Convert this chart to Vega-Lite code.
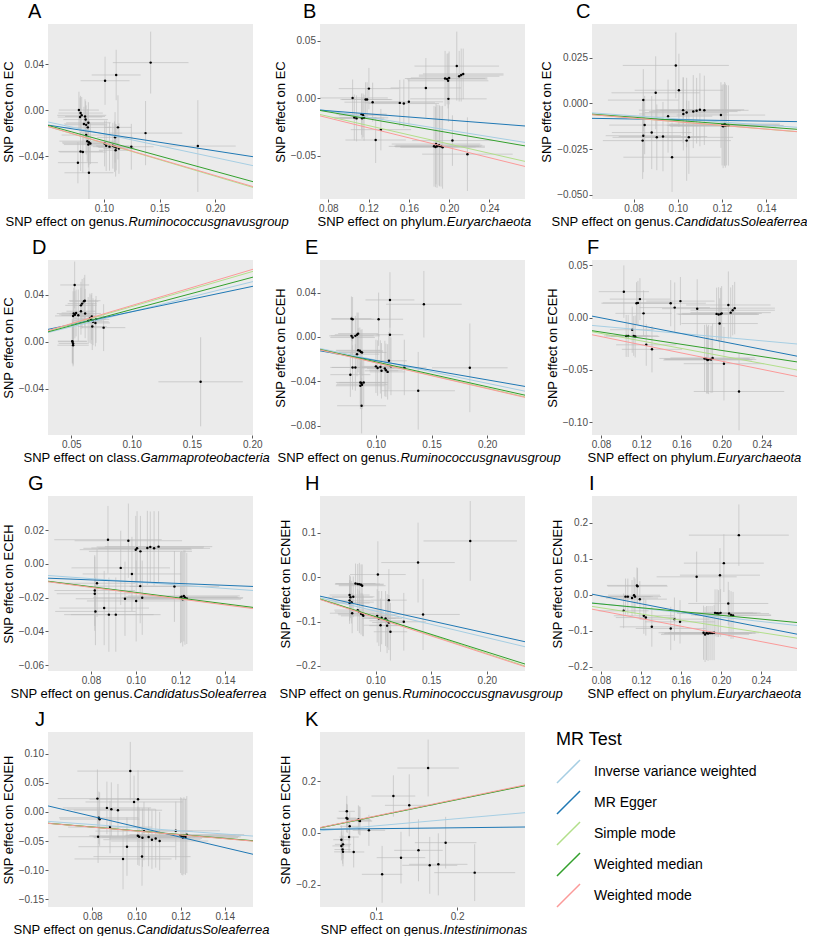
{
"$schema": "https://vega.github.io/schema/vega-lite/v6.json",
"background": "white",
"padding": {"left": 2, "top": 2, "right": 0, "bottom": 0},
"bounds": "flush",
"columns": 3,
"spacing": {"row": 61, "column": 67},
"config": {
  "font": "Liberation Sans",
  "view": {"fill": "#EBEBEB", "stroke": null},
  "title": {"anchor": "start", "frame": "group", "fontSize": 20, "fontWeight": "normal", "offset": 2, "color": "#000000"},
  "axis": {"domain": false, "tickColor": "#333333", "tickSize": 3, "tickWidth": 0.8, "labelColor": "#4D4D4D", "labelFontSize": 10, "labelPadding": 1.5, "labelFlush": false, "labelOverlap": false, "titleFontSize": 13, "titleFontWeight": "normal", "titleColor": "#000000", "gridColor": "#FFFFFF", "gridWidth": 1, "gridOpacity": 1},
  "axisY": {"titlePadding": 3},
  "legend": {"titleFontSize": 18, "titleFontWeight": "normal", "titleColor": "#000000", "labelFontSize": 14, "labelColor": "#000000", "labelLimit": 400, "rowPadding": 0, "labelOffset": 13, "titlePadding": 10, "padding": 0}
},
"datasets": {
"a": [
{"x":0.142,"y":0.0415,"xl":0.108,"xh":0.176,"yl":0.0145,"yh":0.0685},
{"x":0.111,"y":0.0307,"xl":0.089,"xh":0.133,"yl":0.0087,"yh":0.0527},
{"x":0.101,"y":0.0257,"xl":0.079,"xh":0.123,"yl":0.0047,"yh":0.0467},
{"x":0.0775,"y":0.0001,"xl":0.0595,"xh":0.0955,"yl":-0.0159,"yh":0.0161},
{"x":0.079,"y":-0.0025,"xl":0.059,"xh":0.099,"yl":-0.0175,"yh":0.0125},
{"x":0.08,"y":-0.0045,"xl":0.058,"xh":0.102,"yl":-0.0205,"yh":0.0115},
{"x":0.0785,"y":-0.006,"xl":0.0585,"xh":0.0985,"yl":-0.023,"yh":0.011},
{"x":0.083,"y":-0.0055,"xl":0.065,"xh":0.101,"yl":-0.0205,"yh":0.0095},
{"x":0.0835,"y":-0.0082,"xl":0.0635,"xh":0.1035,"yl":-0.0242,"yh":0.0078},
{"x":0.086,"y":-0.011,"xl":0.066,"xh":0.106,"yl":-0.029,"yh":0.007},
{"x":0.084,"y":-0.0128,"xl":0.065,"xh":0.103,"yl":-0.0298,"yh":0.0042},
{"x":0.0855,"y":-0.015,"xl":0.0645,"xh":0.1065,"yl":-0.031,"yh":0.001},
{"x":0.082,"y":-0.012,"xl":0.064,"xh":0.1,"yl":-0.027,"yh":0.003},
{"x":0.1126,"y":-0.015,"xl":0.1006,"xh":0.1246,"yl":-0.043,"yh":0.013},
{"x":0.1374,"y":-0.02,"xl":0.1044,"xh":0.1704,"yl":-0.048,"yh":0.008},
{"x":0.11,"y":-0.0237,"xl":0.094,"xh":0.126,"yl":-0.0457,"yh":-0.0017},
{"x":0.084,"y":-0.0217,"xl":0.062,"xh":0.106,"yl":-0.0387,"yh":-0.0047},
{"x":0.085,"y":-0.027,"xl":0.06,"xh":0.11,"yl":-0.045,"yh":-0.009},
{"x":0.0865,"y":-0.028,"xl":0.0625,"xh":0.1105,"yl":-0.048,"yh":-0.008},
{"x":0.0878,"y":-0.029,"xl":0.0628,"xh":0.1128,"yl":-0.047,"yh":-0.011},
{"x":0.086,"y":-0.03,"xl":0.064,"xh":0.108,"yl":-0.05,"yh":-0.01},
{"x":0.1006,"y":-0.029,"xl":0.0886,"xh":0.1126,"yl":-0.049,"yh":-0.009},
{"x":0.102,"y":-0.031,"xl":0.088,"xh":0.116,"yl":-0.053,"yh":-0.009},
{"x":0.105,"y":-0.0318,"xl":0.09,"xh":0.12,"yl":-0.0528,"yh":-0.0108},
{"x":0.108,"y":-0.031,"xl":0.093,"xh":0.123,"yl":-0.051,"yh":-0.011},
{"x":0.1095,"y":-0.0318,"xl":0.0935,"xh":0.1255,"yl":-0.0538,"yh":-0.0098},
{"x":0.111,"y":-0.0325,"xl":0.095,"xh":0.127,"yl":-0.0525,"yh":-0.0125},
{"x":0.1135,"y":-0.0335,"xl":0.0995,"xh":0.1275,"yl":-0.0555,"yh":-0.0115},
{"x":0.1105,"y":-0.035,"xl":0.0955,"xh":0.1255,"yl":-0.058,"yh":-0.012},
{"x":0.1246,"y":-0.0319,"xl":0.1046,"xh":0.1446,"yl":-0.0519,"yh":-0.0119},
{"x":0.1844,"y":-0.0313,"xl":0.1504,"xh":0.2184,"yl":-0.0713,"yh":0.0087},
{"x":0.079,"y":-0.036,"xl":0.059,"xh":0.099,"yl":-0.053,"yh":-0.019},
{"x":0.081,"y":-0.0365,"xl":0.06,"xh":0.102,"yl":-0.0545,"yh":-0.0185},
{"x":0.0766,"y":-0.0458,"xl":0.0586,"xh":0.0946,"yl":-0.0638,"yh":-0.0278},
{"x":0.0865,"y":-0.0546,"xl":0.0645,"xh":0.1085,"yl":-0.0776,"yh":-0.0316}
],
"b": [
{"x":0.1041,"y":0.0001,"xl":0.0691,"xh":0.1391,"yl":-0.0159,"yh":0.0161},
{"x":0.1203,"y":0.0082,"xl":0.0903,"xh":0.1503,"yl":-0.0098,"yh":0.0262},
{"x":0.117,"y":-0.0013,"xl":0.092,"xh":0.142,"yl":-0.0163,"yh":0.0137},
{"x":0.1185,"y":-0.0013,"xl":0.0935,"xh":0.1435,"yl":-0.0163,"yh":0.0137},
{"x":0.124,"y":-0.0036,"xl":0.096,"xh":0.152,"yl":-0.0206,"yh":0.0134},
{"x":0.1058,"y":-0.0169,"xl":0.0838,"xh":0.1278,"yl":-0.0369,"yh":0.0031},
{"x":0.108,"y":-0.0177,"xl":0.086,"xh":0.13,"yl":-0.0377,"yh":0.0023},
{"x":0.113,"y":-0.014,"xl":0.088,"xh":0.138,"yl":-0.032,"yh":0.004},
{"x":0.1145,"y":-0.015,"xl":0.0905,"xh":0.1385,"yl":-0.034,"yh":0.004},
{"x":0.1135,"y":-0.0175,"xl":0.0915,"xh":0.1355,"yl":-0.0355,"yh":0.0005},
{"x":0.1155,"y":-0.0172,"xl":0.0915,"xh":0.1395,"yl":-0.0372,"yh":0.0028},
{"x":0.1322,"y":-0.0275,"xl":0.1022,"xh":0.1622,"yl":-0.0455,"yh":-0.0095},
{"x":0.127,"y":-0.0365,"xl":0.097,"xh":0.157,"yl":-0.0565,"yh":-0.0165},
{"x":0.151,"y":-0.0042,"xl":0.116,"xh":0.186,"yl":-0.0242,"yh":0.0158},
{"x":0.155,"y":-0.0048,"xl":0.12,"xh":0.19,"yl":-0.0258,"yh":0.0162},
{"x":0.16,"y":-0.0033,"xl":0.126,"xh":0.194,"yl":-0.0233,"yh":0.0167},
{"x":0.1769,"y":0.0088,"xl":0.1419,"xh":0.2119,"yl":-0.0172,"yh":0.0348},
{"x":0.196,"y":0.017,"xl":0.156,"xh":0.236,"yl":-0.007,"yh":0.041},
{"x":0.198,"y":0.0165,"xl":0.158,"xh":0.238,"yl":-0.0055,"yh":0.0385},
{"x":0.2,"y":0.0175,"xl":0.162,"xh":0.238,"yl":-0.0055,"yh":0.0405},
{"x":0.199,"y":0.015,"xl":0.159,"xh":0.239,"yl":-0.009,"yh":0.039},
{"x":0.2076,"y":0.0278,"xl":0.1656,"xh":0.2496,"yl":-0.0022,"yh":0.0578},
{"x":0.21,"y":0.019,"xl":0.17,"xh":0.25,"yl":-0.003,"yh":0.041},
{"x":0.212,"y":0.02,"xl":0.17,"xh":0.254,"yl":-0.003,"yh":0.043},
{"x":0.214,"y":0.021,"xl":0.174,"xh":0.254,"yl":-0.001,"yh":0.043},
{"x":0.1993,"y":-0.0007,"xl":0.1613,"xh":0.2373,"yl":-0.0207,"yh":0.0193},
{"x":0.2033,"y":-0.037,"xl":0.1633,"xh":0.2433,"yl":-0.059,"yh":-0.015},
{"x":0.185,"y":-0.042,"xl":0.14,"xh":0.23,"yl":-0.077,"yh":-0.007},
{"x":0.1865,"y":-0.0425,"xl":0.1465,"xh":0.2265,"yl":-0.0775,"yh":-0.0075},
{"x":0.188,"y":-0.042,"xl":0.146,"xh":0.23,"yl":-0.078,"yh":-0.006},
{"x":0.1905,"y":-0.0418,"xl":0.1455,"xh":0.2355,"yl":-0.0768,"yh":-0.0068},
{"x":0.192,"y":-0.042,"xl":0.152,"xh":0.232,"yl":-0.077,"yh":-0.007},
{"x":0.1935,"y":-0.0428,"xl":0.1515,"xh":0.2355,"yl":-0.0788,"yh":-0.0068},
{"x":0.187,"y":-0.04,"xl":0.143,"xh":0.231,"yl":-0.075,"yh":-0.005},
{"x":0.19,"y":-0.041,"xl":0.147,"xh":0.233,"yl":-0.076,"yh":-0.006},
{"x":0.2182,"y":-0.0488,"xl":0.1732,"xh":0.2632,"yl":-0.0808,"yh":-0.0168}
],
"c": [
{"x":0.0991,"y":0.0208,"xl":0.0751,"xh":0.1231,"yl":0.0028,"yh":0.0388},
{"x":0.09,"y":0.0058,"xl":0.07,"xh":0.11,"yl":-0.0142,"yh":0.0258},
{"x":0.1005,"y":0.0072,"xl":0.0805,"xh":0.1205,"yl":-0.0128,"yh":0.0272},
{"x":0.0844,"y":0.0018,"xl":0.0684,"xh":0.1004,"yl":-0.0152,"yh":0.0188},
{"x":0.085,"y":-0.0119,"xl":0.069,"xh":0.101,"yl":-0.0279,"yh":0.0041},
{"x":0.0844,"y":-0.0177,"xl":0.0674,"xh":0.1014,"yl":-0.0377,"yh":0.0023},
{"x":0.0841,"y":-0.0204,"xl":0.0661,"xh":0.1021,"yl":-0.0414,"yh":0.0006},
{"x":0.0882,"y":-0.016,"xl":0.0702,"xh":0.1062,"yl":-0.036,"yh":0.004},
{"x":0.0905,"y":-0.0186,"xl":0.0705,"xh":0.1105,"yl":-0.0366,"yh":-0.0006},
{"x":0.0933,"y":-0.0182,"xl":0.0733,"xh":0.1133,"yl":-0.0372,"yh":0.0008},
{"x":0.0956,"y":-0.007,"xl":0.0756,"xh":0.1156,"yl":-0.027,"yh":0.013},
{"x":0.0974,"y":-0.0295,"xl":0.0754,"xh":0.1194,"yl":-0.0485,"yh":-0.0105},
{"x":0.1024,"y":-0.0037,"xl":0.0824,"xh":0.1224,"yl":-0.0217,"yh":0.0143},
{"x":0.1025,"y":-0.0058,"xl":0.0825,"xh":0.1225,"yl":-0.0258,"yh":0.0142},
{"x":0.104,"y":-0.005,"xl":0.085,"xh":0.123,"yl":-0.024,"yh":0.014},
{"x":0.107,"y":-0.0045,"xl":0.087,"xh":0.127,"yl":-0.0245,"yh":0.0155},
{"x":0.1085,"y":-0.004,"xl":0.0885,"xh":0.1285,"yl":-0.022,"yh":0.014},
{"x":0.11,"y":-0.0035,"xl":0.09,"xh":0.13,"yl":-0.0235,"yh":0.0165},
{"x":0.112,"y":-0.0038,"xl":0.092,"xh":0.132,"yl":-0.0228,"yh":0.0152},
{"x":0.104,"y":-0.0204,"xl":0.084,"xh":0.124,"yl":-0.0424,"yh":0.0016},
{"x":0.105,"y":-0.0186,"xl":0.085,"xh":0.125,"yl":-0.0386,"yh":0.0014},
{"x":0.1195,"y":-0.0064,"xl":0.0995,"xh":0.1395,"yl":-0.0244,"yh":0.0116},
{"x":0.12,"y":-0.012,"xl":0.095,"xh":0.145,"yl":-0.034,"yh":0.01},
{"x":0.1205,"y":-0.0125,"xl":0.0965,"xh":0.1445,"yl":-0.0355,"yh":0.0105},
{"x":0.121,"y":-0.0118,"xl":0.096,"xh":0.146,"yl":-0.0338,"yh":0.0102},
{"x":0.1215,"y":-0.0122,"xl":0.0955,"xh":0.1475,"yl":-0.0352,"yh":0.0108},
{"x":0.122,"y":-0.012,"xl":0.098,"xh":0.146,"yl":-0.034,"yh":0.01},
{"x":0.1229,"y":-0.0121,"xl":0.0979,"xh":0.1479,"yl":-0.0341,"yh":0.0099},
{"x":0.1212,"y":-0.0113,"xl":0.0962,"xh":0.1462,"yl":-0.0343,"yh":0.0117}
],
"d": [
{"x":0.0528,"y":0.0484,"xl":0.0408,"xh":0.0648,"yl":0.0284,"yh":0.0684},
{"x":0.052,"y":0.024,"xl":0.038,"xh":0.066,"yl":0.002,"yh":0.046},
{"x":0.053,"y":0.023,"xl":0.04,"xh":0.066,"yl":0.003,"yh":0.043},
{"x":0.0515,"y":0.022,"xl":0.0365,"xh":0.0665,"yl":0.001,"yh":0.043},
{"x":0.054,"y":0.0245,"xl":0.042,"xh":0.066,"yl":0.0045,"yh":0.0445},
{"x":0.0558,"y":0.0225,"xl":0.0418,"xh":0.0698,"yl":0.0005,"yh":0.0445},
{"x":0.058,"y":0.031,"xl":0.045,"xh":0.071,"yl":0.011,"yh":0.051},
{"x":0.059,"y":0.0325,"xl":0.047,"xh":0.071,"yl":0.0115,"yh":0.0535},
{"x":0.0605,"y":0.0345,"xl":0.0485,"xh":0.0725,"yl":0.0145,"yh":0.0545},
{"x":0.0612,"y":0.035,"xl":0.0482,"xh":0.0742,"yl":0.013,"yh":0.057},
{"x":0.058,"y":0.026,"xl":0.046,"xh":0.07,"yl":0.006,"yh":0.046},
{"x":0.0615,"y":0.024,"xl":0.0485,"xh":0.0745,"yl":0.003,"yh":0.045},
{"x":0.064,"y":0.018,"xl":0.052,"xh":0.076,"yl":-0.002,"yh":0.038},
{"x":0.0655,"y":0.02,"xl":0.0525,"xh":0.0785,"yl":-0.001,"yh":0.041},
{"x":0.067,"y":0.0215,"xl":0.055,"xh":0.079,"yl":0.0015,"yh":0.0415},
{"x":0.068,"y":0.017,"xl":0.055,"xh":0.081,"yl":-0.003,"yh":0.037},
{"x":0.0665,"y":0.019,"xl":0.0545,"xh":0.0785,"yl":-0.002,"yh":0.04},
{"x":0.0705,"y":0.019,"xl":0.0595,"xh":0.0815,"yl":-0.001,"yh":0.039},
{"x":0.07,"y":0.016,"xl":0.058,"xh":0.082,"yl":-0.004,"yh":0.036},
{"x":0.0674,"y":0.0129,"xl":0.0554,"xh":0.0794,"yl":-0.0071,"yh":0.0329},
{"x":0.0768,"y":0.012,"xl":0.0588,"xh":0.0948,"yl":-0.008,"yh":0.032},
{"x":0.051,"y":0.0,"xl":0.039,"xh":0.063,"yl":-0.018,"yh":0.018},
{"x":0.0515,"y":-0.0015,"xl":0.0395,"xh":0.0635,"yl":-0.0195,"yh":0.0165},
{"x":0.0515,"y":-0.003,"xl":0.0385,"xh":0.0645,"yl":-0.021,"yh":0.015},
{"x":0.0508,"y":0.0005,"xl":0.0388,"xh":0.0628,"yl":-0.0185,"yh":0.0195},
{"x":0.1572,"y":-0.0342,"xl":0.1222,"xh":0.1922,"yl":-0.0722,"yh":0.0038}
],
"e": [
{"x":0.1431,"y":0.0295,"xl":0.1091,"xh":0.1771,"yl":-0.0005,"yh":0.0595},
{"x":0.1126,"y":0.0334,"xl":0.0906,"xh":0.1346,"yl":0.0084,"yh":0.0584},
{"x":0.1024,"y":0.016,"xl":0.0804,"xh":0.1244,"yl":-0.008,"yh":0.04},
{"x":0.078,"y":0.0165,"xl":0.06,"xh":0.096,"yl":-0.0035,"yh":0.0365},
{"x":0.079,"y":0.016,"xl":0.06,"xh":0.098,"yl":-0.004,"yh":0.036},
{"x":0.078,"y":0.001,"xl":0.058,"xh":0.098,"yl":-0.017,"yh":0.019},
{"x":0.079,"y":-0.0005,"xl":0.059,"xh":0.099,"yl":-0.0195,"yh":0.0185},
{"x":0.0815,"y":0.001,"xl":0.0595,"xh":0.1035,"yl":-0.017,"yh":0.019},
{"x":0.083,"y":0.002,"xl":0.063,"xh":0.103,"yl":-0.018,"yh":0.022},
{"x":0.084,"y":0.003,"xl":0.066,"xh":0.102,"yl":-0.016,"yh":0.022},
{"x":0.1126,"y":0.002,"xl":0.1006,"xh":0.1246,"yl":-0.026,"yh":0.03},
{"x":0.084,"y":-0.012,"xl":0.064,"xh":0.104,"yl":-0.032,"yh":0.008},
{"x":0.0855,"y":-0.0125,"xl":0.0645,"xh":0.1065,"yl":-0.0335,"yh":0.0085},
{"x":0.0865,"y":-0.0135,"xl":0.0665,"xh":0.1065,"yl":-0.0335,"yh":0.0065},
{"x":0.0875,"y":-0.014,"xl":0.0655,"xh":0.1095,"yl":-0.035,"yh":0.007},
{"x":0.083,"y":-0.0155,"xl":0.063,"xh":0.103,"yl":-0.0355,"yh":0.0045},
{"x":0.1117,"y":-0.0215,"xl":0.0957,"xh":0.1277,"yl":-0.0475,"yh":0.0045},
{"x":0.1,"y":-0.0265,"xl":0.086,"xh":0.114,"yl":-0.0505,"yh":-0.0025},
{"x":0.1015,"y":-0.028,"xl":0.0865,"xh":0.1165,"yl":-0.053,"yh":-0.003},
{"x":0.104,"y":-0.027,"xl":0.089,"xh":0.119,"yl":-0.051,"yh":-0.003},
{"x":0.108,"y":-0.0285,"xl":0.092,"xh":0.124,"yl":-0.0535,"yh":-0.0035},
{"x":0.109,"y":-0.03,"xl":0.094,"xh":0.124,"yl":-0.054,"yh":-0.006},
{"x":0.1105,"y":-0.0315,"xl":0.0945,"xh":0.1265,"yl":-0.0565,"yh":-0.0065},
{"x":0.105,"y":-0.0305,"xl":0.09,"xh":0.12,"yl":-0.0555,"yh":-0.0055},
{"x":0.1135,"y":-0.0265,"xl":0.0995,"xh":0.1275,"yl":-0.0525,"yh":-0.0005},
{"x":0.1255,"y":-0.0275,"xl":0.1055,"xh":0.1455,"yl":-0.0525,"yh":-0.0025},
{"x":0.1844,"y":-0.0278,"xl":0.1504,"xh":0.2184,"yl":-0.0678,"yh":0.0122},
{"x":0.079,"y":-0.0275,"xl":0.059,"xh":0.099,"yl":-0.0475,"yh":-0.0075},
{"x":0.0815,"y":-0.0275,"xl":0.0605,"xh":0.1025,"yl":-0.0485,"yh":-0.0065},
{"x":0.077,"y":-0.034,"xl":0.059,"xh":0.095,"yl":-0.054,"yh":-0.014},
{"x":0.086,"y":-0.041,"xl":0.064,"xh":0.108,"yl":-0.063,"yh":-0.019},
{"x":0.087,"y":-0.0415,"xl":0.065,"xh":0.109,"yl":-0.0625,"yh":-0.0205},
{"x":0.0875,"y":-0.043,"xl":0.0645,"xh":0.1105,"yl":-0.065,"yh":-0.021},
{"x":0.089,"y":-0.041,"xl":0.067,"xh":0.111,"yl":-0.063,"yh":-0.019},
{"x":0.086,"y":-0.044,"xl":0.064,"xh":0.108,"yl":-0.065,"yh":-0.023},
{"x":0.138,"y":-0.0485,"xl":0.105,"xh":0.171,"yl":-0.0835,"yh":-0.0135},
{"x":0.0871,"y":-0.062,"xl":0.0651,"xh":0.1091,"yl":-0.087,"yh":-0.037}
],
"f": [
{"x":0.1027,"y":0.0247,"xl":0.0777,"xh":0.1277,"yl":-0.0003,"yh":0.0497},
{"x":0.1153,"y":0.0137,"xl":0.0803,"xh":0.1503,"yl":-0.0063,"yh":0.0337},
{"x":0.1167,"y":0.014,"xl":0.0817,"xh":0.1517,"yl":-0.007,"yh":0.035},
{"x":0.1187,"y":0.0176,"xl":0.0887,"xh":0.1487,"yl":-0.0024,"yh":0.0376},
{"x":0.1223,"y":0.004,"xl":0.0943,"xh":0.1503,"yl":-0.018,"yh":0.026},
{"x":0.111,"y":-0.0116,"xl":0.089,"xh":0.133,"yl":-0.0336,"yh":0.0104},
{"x":0.105,"y":-0.0175,"xl":0.083,"xh":0.127,"yl":-0.0375,"yh":0.0025},
{"x":0.107,"y":-0.0175,"xl":0.085,"xh":0.129,"yl":-0.0375,"yh":0.0025},
{"x":0.1125,"y":-0.0175,"xl":0.0885,"xh":0.1365,"yl":-0.0365,"yh":0.0015},
{"x":0.114,"y":-0.018,"xl":0.09,"xh":0.138,"yl":-0.038,"yh":0.002},
{"x":0.125,"y":-0.026,"xl":0.095,"xh":0.155,"yl":-0.046,"yh":-0.006},
{"x":0.1307,"y":-0.0303,"xl":0.1007,"xh":0.1607,"yl":-0.0523,"yh":-0.0083},
{"x":0.1493,"y":0.0137,"xl":0.1143,"xh":0.1843,"yl":-0.0083,"yh":0.0357},
{"x":0.1533,"y":0.0095,"xl":0.1183,"xh":0.1883,"yl":-0.0145,"yh":0.0335},
{"x":0.159,"y":0.0157,"xl":0.125,"xh":0.193,"yl":-0.0073,"yh":0.0387},
{"x":0.1757,"y":0.0085,"xl":0.1407,"xh":0.2107,"yl":-0.0195,"yh":0.0365},
{"x":0.195,"y":0.0035,"xl":0.155,"xh":0.235,"yl":-0.0215,"yh":0.0285},
{"x":0.197,"y":0.003,"xl":0.157,"xh":0.237,"yl":-0.023,"yh":0.029},
{"x":0.199,"y":0.0033,"xl":0.161,"xh":0.237,"yl":-0.0217,"yh":0.0283},
{"x":0.2,"y":0.004,"xl":0.16,"xh":0.24,"yl":-0.022,"yh":0.03},
{"x":0.2067,"y":0.012,"xl":0.1647,"xh":0.2487,"yl":-0.02,"yh":0.044},
{"x":0.209,"y":0.0047,"xl":0.169,"xh":0.249,"yl":-0.0193,"yh":0.0287},
{"x":0.211,"y":0.007,"xl":0.169,"xh":0.253,"yl":-0.017,"yh":0.031},
{"x":0.213,"y":0.009,"xl":0.173,"xh":0.253,"yl":-0.016,"yh":0.034},
{"x":0.198,"y":-0.0057,"xl":0.16,"xh":0.236,"yl":-0.0297,"yh":0.0183},
{"x":0.183,"y":-0.039,"xl":0.138,"xh":0.228,"yl":-0.071,"yh":-0.007},
{"x":0.185,"y":-0.0395,"xl":0.143,"xh":0.227,"yl":-0.0725,"yh":-0.0065},
{"x":0.187,"y":-0.04,"xl":0.143,"xh":0.231,"yl":-0.073,"yh":-0.007},
{"x":0.1895,"y":-0.04,"xl":0.1445,"xh":0.2345,"yl":-0.072,"yh":-0.008},
{"x":0.191,"y":-0.0385,"xl":0.149,"xh":0.233,"yl":-0.0715,"yh":-0.0055},
{"x":0.186,"y":-0.0405,"xl":0.142,"xh":0.23,"yl":-0.0725,"yh":-0.0085},
{"x":0.2023,"y":-0.044,"xl":0.1623,"xh":0.2423,"yl":-0.079,"yh":-0.009},
{"x":0.2173,"y":-0.0705,"xl":0.1723,"xh":0.2623,"yl":-0.1075,"yh":-0.0335}
],
"g": [
{"x":0.0876,"y":0.0143,"xl":0.0636,"xh":0.1116,"yl":-0.0057,"yh":0.0343},
{"x":0.0967,"y":0.0137,"xl":0.0727,"xh":0.1207,"yl":-0.0083,"yh":0.0357},
{"x":0.1,"y":0.0084,"xl":0.075,"xh":0.125,"yl":-0.0116,"yh":0.0284},
{"x":0.1006,"y":0.0092,"xl":0.0766,"xh":0.1246,"yl":-0.0128,"yh":0.0312},
{"x":0.1021,"y":0.0074,"xl":0.0791,"xh":0.1251,"yl":-0.0136,"yh":0.0284},
{"x":0.1052,"y":0.0094,"xl":0.0802,"xh":0.1302,"yl":-0.0126,"yh":0.0314},
{"x":0.1065,"y":0.01,"xl":0.0825,"xh":0.1305,"yl":-0.011,"yh":0.031},
{"x":0.1082,"y":0.0092,"xl":0.0832,"xh":0.1332,"yl":-0.0128,"yh":0.0312},
{"x":0.1102,"y":0.0102,"xl":0.0862,"xh":0.1342,"yl":-0.0108,"yh":0.0312},
{"x":0.0933,"y":-0.0024,"xl":0.0713,"xh":0.1153,"yl":-0.0244,"yh":0.0196},
{"x":0.0983,"y":-0.006,"xl":0.0763,"xh":0.1203,"yl":-0.028,"yh":0.016},
{"x":0.0827,"y":-0.0115,"xl":0.0657,"xh":0.0997,"yl":-0.0315,"yh":0.0085},
{"x":0.0817,"y":-0.0158,"xl":0.0637,"xh":0.0997,"yl":-0.0368,"yh":0.0052},
{"x":0.0817,"y":-0.0177,"xl":0.0647,"xh":0.0987,"yl":-0.0397,"yh":0.0043},
{"x":0.102,"y":-0.0132,"xl":0.082,"xh":0.122,"yl":-0.0352,"yh":0.0088},
{"x":0.0952,"y":-0.0207,"xl":0.0732,"xh":0.1172,"yl":-0.0427,"yh":0.0013},
{"x":0.1002,"y":-0.022,"xl":0.0782,"xh":0.1222,"yl":-0.046,"yh":0.002},
{"x":0.1029,"y":-0.0201,"xl":0.0809,"xh":0.1249,"yl":-0.0421,"yh":0.0019},
{"x":0.1173,"y":-0.0134,"xl":0.0973,"xh":0.1373,"yl":-0.0344,"yh":0.0076},
{"x":0.12,"y":-0.02,"xl":0.094,"xh":0.146,"yl":-0.047,"yh":0.007},
{"x":0.1205,"y":-0.0195,"xl":0.0955,"xh":0.1455,"yl":-0.0465,"yh":0.0075},
{"x":0.121,"y":-0.021,"xl":0.095,"xh":0.147,"yl":-0.049,"yh":0.007},
{"x":0.1215,"y":-0.019,"xl":0.0965,"xh":0.1465,"yl":-0.046,"yh":0.008},
{"x":0.122,"y":-0.02,"xl":0.096,"xh":0.148,"yl":-0.048,"yh":0.008},
{"x":0.1228,"y":-0.0205,"xl":0.0978,"xh":0.1478,"yl":-0.0475,"yh":0.0065},
{"x":0.082,"y":-0.0282,"xl":0.064,"xh":0.1,"yl":-0.0482,"yh":-0.0082},
{"x":0.0859,"y":-0.0262,"xl":0.0659,"xh":0.1059,"yl":-0.0482,"yh":-0.0042},
{"x":0.088,"y":-0.0301,"xl":0.068,"xh":0.108,"yl":-0.0521,"yh":-0.0081},
{"x":0.0911,"y":-0.0301,"xl":0.0711,"xh":0.1111,"yl":-0.0521,"yh":-0.0081}
],
"h": [
{"x":0.1851,"y":0.082,"xl":0.1431,"xh":0.2271,"yl":-0.008,"yh":0.172},
{"x":0.1382,"y":0.0332,"xl":0.1052,"xh":0.1712,"yl":-0.0568,"yh":0.1232},
{"x":0.1021,"y":0.0062,"xl":0.0771,"xh":0.1271,"yl":-0.0688,"yh":0.0812},
{"x":0.082,"y":-0.014,"xl":0.064,"xh":0.1,"yl":-0.059,"yh":0.031},
{"x":0.084,"y":-0.015,"xl":0.064,"xh":0.104,"yl":-0.06,"yh":0.03},
{"x":0.0855,"y":-0.0155,"xl":0.0635,"xh":0.1075,"yl":-0.0635,"yh":0.0325},
{"x":0.087,"y":-0.017,"xl":0.067,"xh":0.107,"yl":-0.063,"yh":0.029},
{"x":0.088,"y":-0.019,"xl":0.067,"xh":0.109,"yl":-0.067,"yh":0.029},
{"x":0.0767,"y":-0.04,"xl":0.0587,"xh":0.0947,"yl":-0.085,"yh":0.005},
{"x":0.0775,"y":-0.045,"xl":0.0575,"xh":0.0975,"yl":-0.092,"yh":0.002},
{"x":0.0767,"y":-0.052,"xl":0.0577,"xh":0.0957,"yl":-0.098,"yh":-0.006},
{"x":0.0785,"y":-0.056,"xl":0.0585,"xh":0.0985,"yl":-0.104,"yh":-0.008},
{"x":0.0767,"y":-0.058,"xl":0.0587,"xh":0.0947,"yl":-0.105,"yh":-0.011},
{"x":0.08,"y":-0.044,"xl":0.061,"xh":0.099,"yl":-0.09,"yh":0.002},
{"x":0.112,"y":-0.0515,"xl":0.096,"xh":0.128,"yl":-0.1215,"yh":0.0185},
{"x":0.1427,"y":-0.0838,"xl":0.1097,"xh":0.1757,"yl":-0.1638,"yh":-0.0038},
{"x":0.079,"y":-0.081,"xl":0.059,"xh":0.099,"yl":-0.126,"yh":-0.036},
{"x":0.084,"y":-0.074,"xl":0.063,"xh":0.105,"yl":-0.121,"yh":-0.027},
{"x":0.0855,"y":-0.078,"xl":0.0635,"xh":0.1075,"yl":-0.126,"yh":-0.03},
{"x":0.087,"y":-0.082,"xl":0.066,"xh":0.108,"yl":-0.129,"yh":-0.035},
{"x":0.0885,"y":-0.0845,"xl":0.0665,"xh":0.1105,"yl":-0.1325,"yh":-0.0365},
{"x":0.089,"y":-0.087,"xl":0.069,"xh":0.109,"yl":-0.133,"yh":-0.041},
{"x":0.1015,"y":-0.087,"xl":0.0875,"xh":0.1155,"yl":-0.147,"yh":-0.027},
{"x":0.103,"y":-0.093,"xl":0.088,"xh":0.118,"yl":-0.155,"yh":-0.031},
{"x":0.1055,"y":-0.091,"xl":0.0895,"xh":0.1215,"yl":-0.151,"yh":-0.031},
{"x":0.109,"y":-0.093,"xl":0.094,"xh":0.124,"yl":-0.155,"yh":-0.031},
{"x":0.1105,"y":-0.098,"xl":0.0945,"xh":0.1265,"yl":-0.158,"yh":-0.038},
{"x":0.112,"y":-0.102,"xl":0.097,"xh":0.127,"yl":-0.164,"yh":-0.04},
{"x":0.1045,"y":-0.108,"xl":0.0895,"xh":0.1195,"yl":-0.168,"yh":-0.048},
{"x":0.1104,"y":-0.109,"xl":0.0944,"xh":0.1264,"yl":-0.171,"yh":-0.047},
{"x":0.1134,"y":-0.1228,"xl":0.0984,"xh":0.1284,"yl":-0.1878,"yh":-0.0578},
{"x":0.1254,"y":-0.1003,"xl":0.1054,"xh":0.1454,"yl":-0.1653,"yh":-0.0353}
],
"i": [
{"x":0.2178,"y":0.1654,"xl":0.1678,"xh":0.2678,"yl":0.0804,"yh":0.2504},
{"x":0.2028,"y":0.0878,"xl":0.1628,"xh":0.2428,"yl":0.0078,"yh":0.1678},
{"x":0.1989,"y":0.0545,"xl":0.1589,"xh":0.2389,"yl":-0.0205,"yh":0.1295},
{"x":0.1756,"y":0.0499,"xl":0.1356,"xh":0.2156,"yl":-0.0201,"yh":0.1199},
{"x":0.2072,"y":-0.024,"xl":0.1672,"xh":0.2472,"yl":-0.084,"yh":0.036},
{"x":0.194,"y":-0.05,"xl":0.156,"xh":0.232,"yl":-0.115,"yh":0.015},
{"x":0.196,"y":-0.051,"xl":0.156,"xh":0.236,"yl":-0.117,"yh":0.015},
{"x":0.1975,"y":-0.052,"xl":0.1595,"xh":0.2355,"yl":-0.117,"yh":0.013},
{"x":0.1995,"y":-0.05,"xl":0.1595,"xh":0.2395,"yl":-0.116,"yh":0.016},
{"x":0.208,"y":-0.052,"xl":0.168,"xh":0.248,"yl":-0.117,"yh":0.013},
{"x":0.21,"y":-0.056,"xl":0.17,"xh":0.25,"yl":-0.122,"yh":0.01},
{"x":0.212,"y":-0.057,"xl":0.174,"xh":0.25,"yl":-0.122,"yh":0.008},
{"x":0.1825,"y":-0.105,"xl":0.1375,"xh":0.2275,"yl":-0.18,"yh":-0.03},
{"x":0.184,"y":-0.11,"xl":0.14,"xh":0.228,"yl":-0.186,"yh":-0.034},
{"x":0.1855,"y":-0.106,"xl":0.1405,"xh":0.2305,"yl":-0.181,"yh":-0.031},
{"x":0.187,"y":-0.107,"xl":0.143,"xh":0.231,"yl":-0.183,"yh":-0.031},
{"x":0.189,"y":-0.106,"xl":0.144,"xh":0.234,"yl":-0.181,"yh":-0.031},
{"x":0.191,"y":-0.106,"xl":0.147,"xh":0.235,"yl":-0.181,"yh":-0.031},
{"x":0.193,"y":-0.105,"xl":0.148,"xh":0.238,"yl":-0.181,"yh":-0.029},
{"x":0.1159,"y":0.026,"xl":0.0859,"xh":0.1459,"yl":-0.024,"yh":0.076},
{"x":0.1165,"y":0.024,"xl":0.0865,"xh":0.1465,"yl":-0.026,"yh":0.074},
{"x":0.1045,"y":-0.005,"xl":0.0795,"xh":0.1295,"yl":-0.055,"yh":0.045},
{"x":0.1068,"y":-0.005,"xl":0.0818,"xh":0.1318,"yl":-0.055,"yh":0.045},
{"x":0.111,"y":-0.009,"xl":0.085,"xh":0.137,"yl":-0.059,"yh":0.041},
{"x":0.113,"y":-0.001,"xl":0.087,"xh":0.139,"yl":-0.051,"yh":0.049},
{"x":0.114,"y":-0.005,"xl":0.088,"xh":0.14,"yl":-0.055,"yh":0.045},
{"x":0.1188,"y":-0.012,"xl":0.0918,"xh":0.1458,"yl":-0.062,"yh":0.038},
{"x":0.1026,"y":-0.0443,"xl":0.0776,"xh":0.1276,"yl":-0.0923,"yh":0.0037},
{"x":0.1228,"y":-0.058,"xl":0.0928,"xh":0.1528,"yl":-0.108,"yh":-0.008},
{"x":0.1248,"y":-0.063,"xl":0.0948,"xh":0.1548,"yl":-0.113,"yh":-0.013},
{"x":0.1308,"y":-0.0887,"xl":0.0988,"xh":0.1628,"yl":-0.1437,"yh":-0.0337},
{"x":0.1534,"y":-0.0674,"xl":0.1184,"xh":0.1884,"yl":-0.1274,"yh":-0.0074},
{"x":0.159,"y":-0.0748,"xl":0.124,"xh":0.194,"yl":-0.1348,"yh":-0.0148},
{"x":0.1497,"y":-0.0933,"xl":0.1147,"xh":0.1847,"yl":-0.1533,"yh":-0.0333}
],
"j": [
{"x":0.0972,"y":0.0699,"xl":0.0732,"xh":0.1212,"yl":0.0199,"yh":0.1199},
{"x":0.0823,"y":0.0227,"xl":0.0643,"xh":0.1003,"yl":-0.0273,"yh":0.0727},
{"x":0.1007,"y":0.0216,"xl":0.0787,"xh":0.1227,"yl":-0.0284,"yh":0.0716},
{"x":0.0989,"y":0.017,"xl":0.0769,"xh":0.1209,"yl":-0.028,"yh":0.062},
{"x":0.0866,"y":0.0068,"xl":0.0666,"xh":0.1066,"yl":-0.0382,"yh":0.0518},
{"x":0.0886,"y":0.0045,"xl":0.0686,"xh":0.1086,"yl":-0.0415,"yh":0.0505},
{"x":0.0916,"y":0.0028,"xl":0.0716,"xh":0.1116,"yl":-0.0422,"yh":0.0478},
{"x":0.0829,"y":-0.0102,"xl":0.0649,"xh":0.1009,"yl":-0.0552,"yh":0.0348},
{"x":0.0833,"y":-0.0125,"xl":0.0653,"xh":0.1013,"yl":-0.0585,"yh":0.0335},
{"x":0.088,"y":-0.0261,"xl":0.069,"xh":0.107,"yl":-0.0711,"yh":0.0189},
{"x":0.0826,"y":-0.0426,"xl":0.0646,"xh":0.1006,"yl":-0.0876,"yh":0.0024},
{"x":0.1034,"y":-0.033,"xl":0.0814,"xh":0.1254,"yl":-0.083,"yh":0.017},
{"x":0.1006,"y":-0.041,"xl":0.0786,"xh":0.1226,"yl":-0.091,"yh":0.009},
{"x":0.1012,"y":-0.0426,"xl":0.0802,"xh":0.1222,"yl":-0.0926,"yh":0.0074},
{"x":0.1027,"y":-0.0443,"xl":0.0807,"xh":0.1247,"yl":-0.0943,"yh":0.0057},
{"x":0.1055,"y":-0.0432,"xl":0.0845,"xh":0.1265,"yl":-0.0932,"yh":0.0068},
{"x":0.107,"y":-0.0477,"xl":0.085,"xh":0.129,"yl":-0.0977,"yh":0.0023},
{"x":0.1087,"y":-0.0455,"xl":0.0877,"xh":0.1297,"yl":-0.0955,"yh":0.0045},
{"x":0.1105,"y":-0.05,"xl":0.0885,"xh":0.1325,"yl":-0.1,"yh":0.0},
{"x":0.0957,"y":-0.0597,"xl":0.0737,"xh":0.1177,"yl":-0.1097,"yh":-0.0097},
{"x":0.0939,"y":-0.0807,"xl":0.0719,"xh":0.1159,"yl":-0.1327,"yh":-0.0287},
{"x":0.1025,"y":-0.0767,"xl":0.0805,"xh":0.1245,"yl":-0.1267,"yh":-0.0267},
{"x":0.1178,"y":-0.0324,"xl":0.0978,"xh":0.1378,"yl":-0.0824,"yh":0.0176},
{"x":0.12,"y":-0.04,"xl":0.095,"xh":0.145,"yl":-0.105,"yh":0.025},
{"x":0.1205,"y":-0.042,"xl":0.0945,"xh":0.1465,"yl":-0.108,"yh":0.024},
{"x":0.121,"y":-0.044,"xl":0.096,"xh":0.146,"yl":-0.109,"yh":0.021},
{"x":0.1215,"y":-0.041,"xl":0.0955,"xh":0.1475,"yl":-0.107,"yh":0.025},
{"x":0.1222,"y":-0.043,"xl":0.0972,"xh":0.1472,"yl":-0.108,"yh":0.022},
{"x":0.1228,"y":-0.039,"xl":0.0968,"xh":0.1488,"yl":-0.105,"yh":0.027}
],
"k": [
{"x":0.1641,"y":0.2516,"xl":0.1261,"xh":0.2021,"yl":0.1416,"yh":0.3616},
{"x":0.1212,"y":0.1432,"xl":0.0942,"xh":0.1482,"yl":0.0632,"yh":0.2232},
{"x":0.1408,"y":0.1071,"xl":0.1108,"xh":0.1708,"yl":-0.0129,"yh":0.2271},
{"x":0.0637,"y":0.0839,"xl":0.0537,"xh":0.0737,"yl":0.0239,"yh":0.1439},
{"x":0.0633,"y":0.058,"xl":0.0513,"xh":0.0753,"yl":0.003,"yh":0.113},
{"x":0.0645,"y":0.0555,"xl":0.0525,"xh":0.0765,"yl":0.0005,"yh":0.1105},
{"x":0.078,"y":0.052,"xl":0.063,"xh":0.093,"yl":-0.003,"yh":0.107},
{"x":0.079,"y":0.048,"xl":0.064,"xh":0.094,"yl":-0.007,"yh":0.103},
{"x":0.08,"y":0.046,"xl":0.065,"xh":0.095,"yl":-0.009,"yh":0.101},
{"x":0.0673,"y":0.0258,"xl":0.0553,"xh":0.0793,"yl":-0.0292,"yh":0.0808},
{"x":0.091,"y":0.0103,"xl":0.071,"xh":0.111,"yl":-0.0497,"yh":0.0703},
{"x":0.0665,"y":-0.0155,"xl":0.0545,"xh":0.0785,"yl":-0.0755,"yh":0.0445},
{"x":0.057,"y":-0.026,"xl":0.047,"xh":0.067,"yl":-0.081,"yh":0.029},
{"x":0.059,"y":-0.044,"xl":0.049,"xh":0.069,"yl":-0.099,"yh":0.011},
{"x":0.057,"y":-0.05,"xl":0.046,"xh":0.068,"yl":-0.106,"yh":0.006},
{"x":0.0585,"y":-0.064,"xl":0.0485,"xh":0.0685,"yl":-0.119,"yh":-0.009},
{"x":0.059,"y":-0.073,"xl":0.048,"xh":0.07,"yl":-0.129,"yh":-0.017},
{"x":0.0722,"y":-0.0735,"xl":0.0592,"xh":0.0852,"yl":-0.1335,"yh":-0.0135},
{"x":0.1857,"y":-0.0374,"xl":0.1477,"xh":0.2237,"yl":-0.1374,"yh":0.0626},
{"x":0.1522,"y":-0.0671,"xl":0.1222,"xh":0.1822,"yl":-0.1871,"yh":0.0529},
{"x":0.1306,"y":-0.0955,"xl":0.1006,"xh":0.1606,"yl":-0.1955,"yh":0.0045},
{"x":0.1661,"y":-0.1252,"xl":0.1321,"xh":0.2001,"yl":-0.2352,"yh":-0.0152},
{"x":0.1767,"y":-0.1213,"xl":0.1407,"xh":0.2127,"yl":-0.2413,"yh":-0.0013},
{"x":0.1073,"y":-0.16,"xl":0.0823,"xh":0.1323,"yl":-0.27,"yh":-0.05},
{"x":0.2216,"y":-0.1535,"xl":0.1716,"xh":0.2716,"yl":-0.2635,"yh":-0.0435}
],
"la": [
{"m":"Inverse variance weighted","x0":0.0497,"y0":-0.0103,"x1":0.234,"y1":-0.0484},
{"m":"MR Egger","x0":0.0497,"y0":-0.013,"x1":0.234,"y1":-0.0406},
{"m":"Simple mode","x0":0.0497,"y0":-0.0143,"x1":0.234,"y1":-0.0674},
{"m":"Weighted median","x0":0.0497,"y0":-0.01325,"x1":0.234,"y1":-0.0624},
{"m":"Weighted mode","x0":0.0497,"y0":-0.0142,"x1":0.234,"y1":-0.0667}
],
"lb": [
{"m":"Inverse variance weighted","x0":0.0717,"y0":-0.01,"x1":0.2754,"y1":-0.0386},
{"m":"MR Egger","x0":0.0717,"y0":-0.0105,"x1":0.2754,"y1":-0.0243},
{"m":"Simple mode","x0":0.0717,"y0":-0.0143,"x1":0.2754,"y1":-0.0551},
{"m":"Weighted median","x0":0.0717,"y0":-0.0108,"x1":0.2754,"y1":-0.0416},
{"m":"Weighted mode","x0":0.0717,"y0":-0.0155,"x1":0.2754,"y1":-0.0595}
],
"lc": [
{"m":"Inverse variance weighted","x0":0.0612,"y0":-0.0052,"x1":0.1539,"y1":-0.0131},
{"m":"MR Egger","x0":0.0612,"y0":-0.0082,"x1":0.1539,"y1":-0.01},
{"m":"Simple mode","x0":0.0612,"y0":-0.0062,"x1":0.1539,"y1":-0.0155},
{"m":"Weighted median","x0":0.0612,"y0":-0.0059,"x1":0.1539,"y1":-0.0142},
{"m":"Weighted mode","x0":0.0612,"y0":-0.0062,"x1":0.1539,"y1":-0.0155}
],
"ld": [
{"m":"Inverse variance weighted","x0":0.0307,"y0":0.0078,"x1":0.2006,"y1":0.0513},
{"m":"MR Egger","x0":0.0307,"y0":0.0105,"x1":0.2006,"y1":0.0473},
{"m":"Simple mode","x0":0.0307,"y0":0.0092,"x1":0.2006,"y1":0.06},
{"m":"Weighted median","x0":0.0307,"y0":0.0084,"x1":0.2006,"y1":0.0551},
{"m":"Weighted mode","x0":0.0307,"y0":0.0095,"x1":0.2006,"y1":0.0618}
],
"le": [
{"m":"Inverse variance weighted","x0":0.0497,"y0":-0.0104,"x1":0.234,"y1":-0.0489},
{"m":"MR Egger","x0":0.0497,"y0":-0.0125,"x1":0.234,"y1":-0.0446},
{"m":"Simple mode","x0":0.0497,"y0":-0.0115,"x1":0.234,"y1":-0.054},
{"m":"Weighted median","x0":0.0497,"y0":-0.0112,"x1":0.234,"y1":-0.0525},
{"m":"Weighted mode","x0":0.0497,"y0":-0.0116,"x1":0.234,"y1":-0.0545}
],
"lf": [
{"m":"Inverse variance weighted","x0":0.071,"y0":-0.0075,"x1":0.275,"y1":-0.0252},
{"m":"MR Egger","x0":0.071,"y0":0.0014,"x1":0.275,"y1":-0.0368},
{"m":"Simple mode","x0":0.071,"y0":-0.0135,"x1":0.275,"y1":-0.05},
{"m":"Weighted median","x0":0.071,"y0":-0.0125,"x1":0.275,"y1":-0.0423},
{"m":"Weighted mode","x0":0.071,"y0":-0.0164,"x1":0.275,"y1":-0.0562}
],
"lg": [
{"m":"Inverse variance weighted","x0":0.0608,"y0":-0.0069,"x1":0.1524,"y1":-0.0158},
{"m":"MR Egger","x0":0.0608,"y0":-0.0085,"x1":0.1524,"y1":-0.0134},
{"m":"Simple mode","x0":0.0608,"y0":-0.0105,"x1":0.1524,"y1":-0.0262},
{"m":"Weighted median","x0":0.0608,"y0":-0.0103,"x1":0.1524,"y1":-0.0258},
{"m":"Weighted mode","x0":0.0608,"y0":-0.0106,"x1":0.1524,"y1":-0.0265}
],
"lh": [
{"m":"Inverse variance weighted","x0":0.0501,"y0":-0.0463,"x1":0.2343,"y1":-0.1566},
{"m":"MR Egger","x0":0.0501,"y0":-0.0425,"x1":0.2343,"y1":-0.1453},
{"m":"Simple mode","x0":0.0501,"y0":-0.048,"x1":0.2343,"y1":-0.2},
{"m":"Weighted median","x0":0.0501,"y0":-0.0493,"x1":0.2343,"y1":-0.1956},
{"m":"Weighted mode","x0":0.0501,"y0":-0.05,"x1":0.2343,"y1":-0.2016}
],
"li": [
{"m":"Inverse variance weighted","x0":0.071,"y0":-0.022,"x1":0.2759,"y1":-0.085},
{"m":"MR Egger","x0":0.071,"y0":0.0018,"x1":0.2759,"y1":-0.109},
{"m":"Simple mode","x0":0.071,"y0":-0.032,"x1":0.2759,"y1":-0.12},
{"m":"Weighted median","x0":0.071,"y0":-0.023,"x1":0.2759,"y1":-0.0767},
{"m":"Weighted mode","x0":0.071,"y0":-0.0397,"x1":0.2759,"y1":-0.1487}
],
"lj": [
{"m":"Inverse variance weighted","x0":0.0599,"y0":-0.0163,"x1":0.1528,"y1":-0.0415},
{"m":"MR Egger","x0":0.0599,"y0":0.0102,"x1":0.1528,"y1":-0.0727},
{"m":"Simple mode","x0":0.0599,"y0":-0.0196,"x1":0.1528,"y1":-0.05},
{"m":"Weighted median","x0":0.0599,"y0":-0.0195,"x1":0.1528,"y1":-0.0495},
{"m":"Weighted mode","x0":0.0599,"y0":-0.0197,"x1":0.1528,"y1":-0.0502}
],
"lk": [
{"m":"Inverse variance weighted","x0":0.0306,"y0":0.0085,"x1":0.2837,"y1":0.0787},
{"m":"MR Egger","x0":0.0306,"y0":0.0142,"x1":0.2837,"y1":0.0232},
{"m":"Simple mode","x0":0.0306,"y0":0.0199,"x1":0.2837,"y1":0.1845},
{"m":"Weighted median","x0":0.0306,"y0":0.02,"x1":0.2837,"y1":0.183},
{"m":"Weighted mode","x0":0.0306,"y0":0.021,"x1":0.2837,"y1":0.186}
]
},
"concat": [
{"title": {"text": "A", "dx": -20}, "width": 205, "height": 175,
 "resolve": {"axis": {"x": "independent", "y": "independent"}},
 "layer": [
  {"data": {"name": "a"}, "mark": {"type": "rule", "color": "#BDBDBD", "strokeWidth": 0.65, "clip": true},
   "encoding": {"x": {"field": "xl", "type": "quantitative", "scale": {"domain": [0.0497, 0.234], "nice": false, "zero": false}, "axis": null}, "x2": {"field": "xh"}, "y": {"field": "y", "type": "quantitative", "scale": {"domain": [-0.0775, 0.0752], "nice": false, "zero": false}, "axis": null}}},
  {"data": {"name": "a"}, "mark": {"type": "rule", "color": "#BDBDBD", "strokeWidth": 0.65, "clip": true},
   "encoding": {"x": {"field": "x", "type": "quantitative", "axis": null}, "y": {"field": "yl", "type": "quantitative", "axis": null}, "y2": {"field": "yh"}}},
  {"data": {"name": "a"}, "mark": {"type": "circle", "color": "#000000", "size": 6, "opacity": 1},
   "encoding": {"x": {"field": "x", "type": "quantitative", "axis": {"orient": "bottom", "values": [0.1, 0.15, 0.2], "format": ".2f", "title": "SNP effect on genus.", "titleX": -43, "titleY": 22, "titleAlign": "left", "titleBaseline": "middle"}},
                "y": {"field": "y", "type": "quantitative", "axis": {"orient": "left", "values": [-0.04, 0, 0.04], "format": ".2f", "title": "SNP effect on EC"}}}},
  {"data": {"name": "la"}, "mark": {"type": "rule", "strokeWidth": 1, "clip": true},
   "encoding": {"x": {"field": "x0", "type": "quantitative", "axis": {"orient": "bottom", "values": [0.075, 0.125, 0.175, 0.225], "labels": false, "ticks": false, "gridWidth": 0.5, "title": "Ruminococcusgnavusgroup", "titleFontStyle": "italic", "titleX": 79.9, "titleY": 22, "titleAlign": "left", "titleBaseline": "middle"}}, "x2": {"field": "x1"},
                "y": {"field": "y0", "type": "quantitative", "axis": {"orient": "left", "values": [-0.06, -0.02, 0.02, 0.06], "labels": false, "ticks": false, "gridWidth": 0.5, "title": null}}, "y2": {"field": "y1"},
                "color": {"field": "m", "type": "nominal", "scale": {"domain": ["Inverse variance weighted", "MR Egger", "Simple mode", "Weighted median", "Weighted mode"], "range": ["#A6CEE3", "#1F78B4", "#B2DF8A", "#33A02C", "#FB9A99"]}, "legend": {"title": "MR Test", "orient": "none", "legendX": 508, "legendY": 707, "symbolType": "M-1,1L1,-1", "symbolSize": 530, "symbolStrokeWidth": 1.5}}}}
 ]},
{"title": {"text": "B", "dx": -17}, "width": 205, "height": 175,
 "resolve": {"axis": {"x": "independent", "y": "independent"}},
 "layer": [
  {"data": {"name": "b"}, "mark": {"type": "rule", "color": "#BDBDBD", "strokeWidth": 0.65, "clip": true},
   "encoding": {"x": {"field": "xl", "type": "quantitative", "scale": {"domain": [0.0717, 0.2754], "nice": false, "zero": false}, "axis": null}, "x2": {"field": "xh"}, "y": {"field": "y", "type": "quantitative", "scale": {"domain": [-0.0878, 0.0644], "nice": false, "zero": false}, "axis": null}}},
  {"data": {"name": "b"}, "mark": {"type": "rule", "color": "#BDBDBD", "strokeWidth": 0.65, "clip": true},
   "encoding": {"x": {"field": "x", "type": "quantitative", "axis": null}, "y": {"field": "yl", "type": "quantitative", "axis": null}, "y2": {"field": "yh"}}},
  {"data": {"name": "b"}, "mark": {"type": "circle", "color": "#000000", "size": 6, "opacity": 1},
   "encoding": {"x": {"field": "x", "type": "quantitative", "axis": {"orient": "bottom", "values": [0.08, 0.12, 0.16, 0.2, 0.24], "format": ".2f", "title": "SNP effect on phylum.", "titleX": -3, "titleY": 22, "titleAlign": "left", "titleBaseline": "middle"}},
                "y": {"field": "y", "type": "quantitative", "axis": {"orient": "left", "values": [-0.05, 0, 0.05], "format": ".2f", "title": "SNP effect on EC"}}}},
  {"data": {"name": "lb"}, "mark": {"type": "rule", "strokeWidth": 1, "clip": true},
   "encoding": {"x": {"field": "x0", "type": "quantitative", "axis": {"orient": "bottom", "values": [0.1, 0.14, 0.18, 0.22, 0.26], "labels": false, "ticks": false, "gridWidth": 0.5, "title": "Euryarchaeota", "titleFontStyle": "italic", "titleX": 126.3, "titleY": 22, "titleAlign": "left", "titleBaseline": "middle"}}, "x2": {"field": "x1"},
                "y": {"field": "y0", "type": "quantitative", "axis": {"orient": "left", "values": [-0.075, -0.025, 0.025], "labels": false, "ticks": false, "gridWidth": 0.5, "title": null}}, "y2": {"field": "y1"},
                "color": {"field": "m", "type": "nominal", "scale": {"domain": ["Inverse variance weighted", "MR Egger", "Simple mode", "Weighted median", "Weighted mode"], "range": ["#A6CEE3", "#1F78B4", "#B2DF8A", "#33A02C", "#FB9A99"]}, "legend": {"title": "MR Test", "orient": "none", "legendX": 508, "legendY": 707, "symbolType": "M-1,1L1,-1", "symbolSize": 530, "symbolStrokeWidth": 1.5}}}}
 ]},
{"title": {"text": "C", "dx": -16}, "width": 205, "height": 175,
 "resolve": {"axis": {"x": "independent", "y": "independent"}},
 "layer": [
  {"data": {"name": "c"}, "mark": {"type": "rule", "color": "#BDBDBD", "strokeWidth": 0.65, "clip": true},
   "encoding": {"x": {"field": "xl", "type": "quantitative", "scale": {"domain": [0.0612, 0.1539], "nice": false, "zero": false}, "axis": null}, "x2": {"field": "xh"}, "y": {"field": "y", "type": "quantitative", "scale": {"domain": [-0.0524, 0.0435], "nice": false, "zero": false}, "axis": null}}},
  {"data": {"name": "c"}, "mark": {"type": "rule", "color": "#BDBDBD", "strokeWidth": 0.65, "clip": true},
   "encoding": {"x": {"field": "x", "type": "quantitative", "axis": null}, "y": {"field": "yl", "type": "quantitative", "axis": null}, "y2": {"field": "yh"}}},
  {"data": {"name": "c"}, "mark": {"type": "circle", "color": "#000000", "size": 6, "opacity": 1},
   "encoding": {"x": {"field": "x", "type": "quantitative", "axis": {"orient": "bottom", "values": [0.08, 0.1, 0.12, 0.14], "format": ".2f", "title": "SNP effect on genus.", "titleX": -41, "titleY": 22, "titleAlign": "left", "titleBaseline": "middle"}},
                "y": {"field": "y", "type": "quantitative", "axis": {"orient": "left", "values": [-0.05, -0.025, 0, 0.025], "format": ".3f", "title": "SNP effect on EC"}}}},
  {"data": {"name": "lc"}, "mark": {"type": "rule", "strokeWidth": 1, "clip": true},
   "encoding": {"x": {"field": "x0", "type": "quantitative", "axis": {"orient": "bottom", "values": [0.07, 0.09, 0.11, 0.13, 0.15], "labels": false, "ticks": false, "gridWidth": 0.5, "title": "CandidatusSoleaferrea", "titleFontStyle": "italic", "titleX": 81.9, "titleY": 22, "titleAlign": "left", "titleBaseline": "middle"}}, "x2": {"field": "x1"},
                "y": {"field": "y0", "type": "quantitative", "axis": {"orient": "left", "values": [-0.0375, -0.0125, 0.0125, 0.0375], "labels": false, "ticks": false, "gridWidth": 0.5, "title": null}}, "y2": {"field": "y1"},
                "color": {"field": "m", "type": "nominal", "scale": {"domain": ["Inverse variance weighted", "MR Egger", "Simple mode", "Weighted median", "Weighted mode"], "range": ["#A6CEE3", "#1F78B4", "#B2DF8A", "#33A02C", "#FB9A99"]}, "legend": {"title": "MR Test", "orient": "none", "legendX": 508, "legendY": 707, "symbolType": "M-1,1L1,-1", "symbolSize": 530, "symbolStrokeWidth": 1.5}}}}
 ]},
{"title": {"text": "D", "dx": -16}, "width": 205, "height": 175,
 "resolve": {"axis": {"x": "independent", "y": "independent"}},
 "layer": [
  {"data": {"name": "d"}, "mark": {"type": "rule", "color": "#BDBDBD", "strokeWidth": 0.65, "clip": true},
   "encoding": {"x": {"field": "xl", "type": "quantitative", "scale": {"domain": [0.0307, 0.2006], "nice": false, "zero": false}, "axis": null}, "x2": {"field": "xh"}, "y": {"field": "y", "type": "quantitative", "scale": {"domain": [-0.0796, 0.0697], "nice": false, "zero": false}, "axis": null}}},
  {"data": {"name": "d"}, "mark": {"type": "rule", "color": "#BDBDBD", "strokeWidth": 0.65, "clip": true},
   "encoding": {"x": {"field": "x", "type": "quantitative", "axis": null}, "y": {"field": "yl", "type": "quantitative", "axis": null}, "y2": {"field": "yh"}}},
  {"data": {"name": "d"}, "mark": {"type": "circle", "color": "#000000", "size": 6, "opacity": 1},
   "encoding": {"x": {"field": "x", "type": "quantitative", "axis": {"orient": "bottom", "values": [0.05, 0.1, 0.15, 0.2], "format": ".2f", "title": "SNP effect on class.", "titleX": -25, "titleY": 22, "titleAlign": "left", "titleBaseline": "middle"}},
                "y": {"field": "y", "type": "quantitative", "axis": {"orient": "left", "values": [-0.04, 0, 0.04], "format": ".2f", "title": "SNP effect on EC"}}}},
  {"data": {"name": "ld"}, "mark": {"type": "rule", "strokeWidth": 1, "clip": true},
   "encoding": {"x": {"field": "x0", "type": "quantitative", "axis": {"orient": "bottom", "values": [0.075, 0.125, 0.175], "labels": false, "ticks": false, "gridWidth": 0.5, "title": "Gammaproteobacteria", "titleFontStyle": "italic", "titleX": 92, "titleY": 22, "titleAlign": "left", "titleBaseline": "middle"}}, "x2": {"field": "x1"},
                "y": {"field": "y0", "type": "quantitative", "axis": {"orient": "left", "values": [-0.06, -0.02, 0.02, 0.06], "labels": false, "ticks": false, "gridWidth": 0.5, "title": null}}, "y2": {"field": "y1"},
                "color": {"field": "m", "type": "nominal", "scale": {"domain": ["Inverse variance weighted", "MR Egger", "Simple mode", "Weighted median", "Weighted mode"], "range": ["#A6CEE3", "#1F78B4", "#B2DF8A", "#33A02C", "#FB9A99"]}, "legend": {"title": "MR Test", "orient": "none", "legendX": 508, "legendY": 707, "symbolType": "M-1,1L1,-1", "symbolSize": 530, "symbolStrokeWidth": 1.5}}}}
 ]},
{"title": {"text": "E", "dx": -15}, "width": 205, "height": 175,
 "resolve": {"axis": {"x": "independent", "y": "independent"}},
 "layer": [
  {"data": {"name": "e"}, "mark": {"type": "rule", "color": "#BDBDBD", "strokeWidth": 0.65, "clip": true},
   "encoding": {"x": {"field": "xl", "type": "quantitative", "scale": {"domain": [0.0497, 0.234], "nice": false, "zero": false}, "axis": null}, "x2": {"field": "xh"}, "y": {"field": "y", "type": "quantitative", "scale": {"domain": [-0.0884, 0.0694], "nice": false, "zero": false}, "axis": null}}},
  {"data": {"name": "e"}, "mark": {"type": "rule", "color": "#BDBDBD", "strokeWidth": 0.65, "clip": true},
   "encoding": {"x": {"field": "x", "type": "quantitative", "axis": null}, "y": {"field": "yl", "type": "quantitative", "axis": null}, "y2": {"field": "yh"}}},
  {"data": {"name": "e"}, "mark": {"type": "circle", "color": "#000000", "size": 6, "opacity": 1},
   "encoding": {"x": {"field": "x", "type": "quantitative", "axis": {"orient": "bottom", "values": [0.1, 0.15, 0.2], "format": ".2f", "title": "SNP effect on genus.", "titleX": -43, "titleY": 22, "titleAlign": "left", "titleBaseline": "middle"}},
                "y": {"field": "y", "type": "quantitative", "axis": {"orient": "left", "values": [-0.08, -0.04, 0, 0.04], "format": ".2f", "title": "SNP effect on ECEH"}}}},
  {"data": {"name": "le"}, "mark": {"type": "rule", "strokeWidth": 1, "clip": true},
   "encoding": {"x": {"field": "x0", "type": "quantitative", "axis": {"orient": "bottom", "values": [0.075, 0.125, 0.175, 0.225], "labels": false, "ticks": false, "gridWidth": 0.5, "title": "Ruminococcusgnavusgroup", "titleFontStyle": "italic", "titleX": 79.9, "titleY": 22, "titleAlign": "left", "titleBaseline": "middle"}}, "x2": {"field": "x1"},
                "y": {"field": "y0", "type": "quantitative", "axis": {"orient": "left", "values": [-0.06, -0.02, 0.02, 0.06], "labels": false, "ticks": false, "gridWidth": 0.5, "title": null}}, "y2": {"field": "y1"},
                "color": {"field": "m", "type": "nominal", "scale": {"domain": ["Inverse variance weighted", "MR Egger", "Simple mode", "Weighted median", "Weighted mode"], "range": ["#A6CEE3", "#1F78B4", "#B2DF8A", "#33A02C", "#FB9A99"]}, "legend": {"title": "MR Test", "orient": "none", "legendX": 508, "legendY": 707, "symbolType": "M-1,1L1,-1", "symbolSize": 530, "symbolStrokeWidth": 1.5}}}}
 ]},
{"title": {"text": "F", "dx": -5}, "width": 205, "height": 175,
 "resolve": {"axis": {"x": "independent", "y": "independent"}},
 "layer": [
  {"data": {"name": "f"}, "mark": {"type": "rule", "color": "#BDBDBD", "strokeWidth": 0.65, "clip": true},
   "encoding": {"x": {"field": "xl", "type": "quantitative", "scale": {"domain": [0.071, 0.275], "nice": false, "zero": false}, "axis": null}, "x2": {"field": "xh"}, "y": {"field": "y", "type": "quantitative", "scale": {"domain": [-0.112, 0.0549], "nice": false, "zero": false}, "axis": null}}},
  {"data": {"name": "f"}, "mark": {"type": "rule", "color": "#BDBDBD", "strokeWidth": 0.65, "clip": true},
   "encoding": {"x": {"field": "x", "type": "quantitative", "axis": null}, "y": {"field": "yl", "type": "quantitative", "axis": null}, "y2": {"field": "yh"}}},
  {"data": {"name": "f"}, "mark": {"type": "circle", "color": "#000000", "size": 6, "opacity": 1},
   "encoding": {"x": {"field": "x", "type": "quantitative", "axis": {"orient": "bottom", "values": [0.08, 0.12, 0.16, 0.2, 0.24], "format": ".2f", "title": "SNP effect on phylum.", "titleX": -5, "titleY": 22, "titleAlign": "left", "titleBaseline": "middle"}},
                "y": {"field": "y", "type": "quantitative", "axis": {"orient": "left", "values": [-0.1, -0.05, 0, 0.05], "format": ".2f", "title": "SNP effect on ECEH"}}}},
  {"data": {"name": "lf"}, "mark": {"type": "rule", "strokeWidth": 1, "clip": true},
   "encoding": {"x": {"field": "x0", "type": "quantitative", "axis": {"orient": "bottom", "values": [0.1, 0.14, 0.18, 0.22, 0.26], "labels": false, "ticks": false, "gridWidth": 0.5, "title": "Euryarchaeota", "titleFontStyle": "italic", "titleX": 124.3, "titleY": 22, "titleAlign": "left", "titleBaseline": "middle"}}, "x2": {"field": "x1"},
                "y": {"field": "y0", "type": "quantitative", "axis": {"orient": "left", "values": [-0.075, -0.025, 0.025], "labels": false, "ticks": false, "gridWidth": 0.5, "title": null}}, "y2": {"field": "y1"},
                "color": {"field": "m", "type": "nominal", "scale": {"domain": ["Inverse variance weighted", "MR Egger", "Simple mode", "Weighted median", "Weighted mode"], "range": ["#A6CEE3", "#1F78B4", "#B2DF8A", "#33A02C", "#FB9A99"]}, "legend": {"title": "MR Test", "orient": "none", "legendX": 508, "legendY": 707, "symbolType": "M-1,1L1,-1", "symbolSize": 530, "symbolStrokeWidth": 1.5}}}}
 ]},
{"title": {"text": "G", "dx": -20}, "width": 205, "height": 175,
 "resolve": {"axis": {"x": "independent", "y": "independent"}},
 "layer": [
  {"data": {"name": "g"}, "mark": {"type": "rule", "color": "#BDBDBD", "strokeWidth": 0.65, "clip": true},
   "encoding": {"x": {"field": "xl", "type": "quantitative", "scale": {"domain": [0.0608, 0.1524], "nice": false, "zero": false}, "axis": null}, "x2": {"field": "xh"}, "y": {"field": "y", "type": "quantitative", "scale": {"domain": [-0.0635, 0.0402], "nice": false, "zero": false}, "axis": null}}},
  {"data": {"name": "g"}, "mark": {"type": "rule", "color": "#BDBDBD", "strokeWidth": 0.65, "clip": true},
   "encoding": {"x": {"field": "x", "type": "quantitative", "axis": null}, "y": {"field": "yl", "type": "quantitative", "axis": null}, "y2": {"field": "yh"}}},
  {"data": {"name": "g"}, "mark": {"type": "circle", "color": "#000000", "size": 6, "opacity": 1},
   "encoding": {"x": {"field": "x", "type": "quantitative", "axis": {"orient": "bottom", "values": [0.08, 0.1, 0.12, 0.14], "format": ".2f", "title": "SNP effect on genus.", "titleX": -38, "titleY": 22, "titleAlign": "left", "titleBaseline": "middle"}},
                "y": {"field": "y", "type": "quantitative", "axis": {"orient": "left", "values": [-0.06, -0.04, -0.02, 0, 0.02], "format": ".2f", "title": "SNP effect on ECEH"}}}},
  {"data": {"name": "lg"}, "mark": {"type": "rule", "strokeWidth": 1, "clip": true},
   "encoding": {"x": {"field": "x0", "type": "quantitative", "axis": {"orient": "bottom", "values": [0.07, 0.09, 0.11, 0.13, 0.15], "labels": false, "ticks": false, "gridWidth": 0.5, "title": "CandidatusSoleaferrea", "titleFontStyle": "italic", "titleX": 84.9, "titleY": 22, "titleAlign": "left", "titleBaseline": "middle"}}, "x2": {"field": "x1"},
                "y": {"field": "y0", "type": "quantitative", "axis": {"orient": "left", "values": [-0.05, -0.03, -0.01, 0.01, 0.03], "labels": false, "ticks": false, "gridWidth": 0.5, "title": null}}, "y2": {"field": "y1"},
                "color": {"field": "m", "type": "nominal", "scale": {"domain": ["Inverse variance weighted", "MR Egger", "Simple mode", "Weighted median", "Weighted mode"], "range": ["#A6CEE3", "#1F78B4", "#B2DF8A", "#33A02C", "#FB9A99"]}, "legend": {"title": "MR Test", "orient": "none", "legendX": 508, "legendY": 707, "symbolType": "M-1,1L1,-1", "symbolSize": 530, "symbolStrokeWidth": 1.5}}}}
 ]},
{"title": {"text": "H", "dx": -15}, "width": 205, "height": 175,
 "resolve": {"axis": {"x": "independent", "y": "independent"}},
 "layer": [
  {"data": {"name": "h"}, "mark": {"type": "rule", "color": "#BDBDBD", "strokeWidth": 0.65, "clip": true},
   "encoding": {"x": {"field": "xl", "type": "quantitative", "scale": {"domain": [0.0501, 0.2343], "nice": false, "zero": false}, "axis": null}, "x2": {"field": "xh"}, "y": {"field": "y", "type": "quantitative", "scale": {"domain": [-0.2113, 0.1833], "nice": false, "zero": false}, "axis": null}}},
  {"data": {"name": "h"}, "mark": {"type": "rule", "color": "#BDBDBD", "strokeWidth": 0.65, "clip": true},
   "encoding": {"x": {"field": "x", "type": "quantitative", "axis": null}, "y": {"field": "yl", "type": "quantitative", "axis": null}, "y2": {"field": "yh"}}},
  {"data": {"name": "h"}, "mark": {"type": "circle", "color": "#000000", "size": 6, "opacity": 1},
   "encoding": {"x": {"field": "x", "type": "quantitative", "axis": {"orient": "bottom", "values": [0.1, 0.15, 0.2], "format": ".2f", "title": "SNP effect on genus.", "titleX": -41, "titleY": 22, "titleAlign": "left", "titleBaseline": "middle"}},
                "y": {"field": "y", "type": "quantitative", "axis": {"orient": "left", "values": [-0.2, -0.1, 0, 0.1], "format": ".1f", "title": "SNP effect on ECNEH"}}}},
  {"data": {"name": "lh"}, "mark": {"type": "rule", "strokeWidth": 1, "clip": true},
   "encoding": {"x": {"field": "x0", "type": "quantitative", "axis": {"orient": "bottom", "values": [0.075, 0.125, 0.175, 0.225], "labels": false, "ticks": false, "gridWidth": 0.5, "title": "Ruminococcusgnavusgroup", "titleFontStyle": "italic", "titleX": 81.9, "titleY": 22, "titleAlign": "left", "titleBaseline": "middle"}}, "x2": {"field": "x1"},
                "y": {"field": "y0", "type": "quantitative", "axis": {"orient": "left", "values": [-0.15, -0.05, 0.05, 0.15], "labels": false, "ticks": false, "gridWidth": 0.5, "title": null}}, "y2": {"field": "y1"},
                "color": {"field": "m", "type": "nominal", "scale": {"domain": ["Inverse variance weighted", "MR Egger", "Simple mode", "Weighted median", "Weighted mode"], "range": ["#A6CEE3", "#1F78B4", "#B2DF8A", "#33A02C", "#FB9A99"]}, "legend": {"title": "MR Test", "orient": "none", "legendX": 508, "legendY": 707, "symbolType": "M-1,1L1,-1", "symbolSize": 530, "symbolStrokeWidth": 1.5}}}}
 ]},
{"title": {"text": "I", "dx": -3}, "width": 205, "height": 175,
 "resolve": {"axis": {"x": "independent", "y": "independent"}},
 "layer": [
  {"data": {"name": "i"}, "mark": {"type": "rule", "color": "#BDBDBD", "strokeWidth": 0.65, "clip": true},
   "encoding": {"x": {"field": "xl", "type": "quantitative", "scale": {"domain": [0.071, 0.2759], "nice": false, "zero": false}, "axis": null}, "x2": {"field": "xh"}, "y": {"field": "y", "type": "quantitative", "scale": {"domain": [-0.2111, 0.2739], "nice": false, "zero": false}, "axis": null}}},
  {"data": {"name": "i"}, "mark": {"type": "rule", "color": "#BDBDBD", "strokeWidth": 0.65, "clip": true},
   "encoding": {"x": {"field": "x", "type": "quantitative", "axis": null}, "y": {"field": "yl", "type": "quantitative", "axis": null}, "y2": {"field": "yh"}}},
  {"data": {"name": "i"}, "mark": {"type": "circle", "color": "#000000", "size": 6, "opacity": 1},
   "encoding": {"x": {"field": "x", "type": "quantitative", "axis": {"orient": "bottom", "values": [0.08, 0.12, 0.16, 0.2, 0.24], "format": ".2f", "title": "SNP effect on phylum.", "titleX": -5, "titleY": 22, "titleAlign": "left", "titleBaseline": "middle"}},
                "y": {"field": "y", "type": "quantitative", "axis": {"orient": "left", "values": [-0.2, -0.1, 0, 0.1, 0.2], "format": ".1f", "title": "SNP effect on ECNEH"}}}},
  {"data": {"name": "li"}, "mark": {"type": "rule", "strokeWidth": 1, "clip": true},
   "encoding": {"x": {"field": "x0", "type": "quantitative", "axis": {"orient": "bottom", "values": [0.1, 0.14, 0.18, 0.22, 0.26], "labels": false, "ticks": false, "gridWidth": 0.5, "title": "Euryarchaeota", "titleFontStyle": "italic", "titleX": 124.3, "titleY": 22, "titleAlign": "left", "titleBaseline": "middle"}}, "x2": {"field": "x1"},
                "y": {"field": "y0", "type": "quantitative", "axis": {"orient": "left", "values": [-0.15, -0.05, 0.05, 0.15, 0.25], "labels": false, "ticks": false, "gridWidth": 0.5, "title": null}}, "y2": {"field": "y1"},
                "color": {"field": "m", "type": "nominal", "scale": {"domain": ["Inverse variance weighted", "MR Egger", "Simple mode", "Weighted median", "Weighted mode"], "range": ["#A6CEE3", "#1F78B4", "#B2DF8A", "#33A02C", "#FB9A99"]}, "legend": {"title": "MR Test", "orient": "none", "legendX": 508, "legendY": 707, "symbolType": "M-1,1L1,-1", "symbolSize": 530, "symbolStrokeWidth": 1.5}}}}
 ]},
{"title": {"text": "J", "dx": -13}, "width": 205, "height": 175,
 "resolve": {"axis": {"x": "independent", "y": "independent"}},
 "layer": [
  {"data": {"name": "j"}, "mark": {"type": "rule", "color": "#BDBDBD", "strokeWidth": 0.65, "clip": true},
   "encoding": {"x": {"field": "xl", "type": "quantitative", "scale": {"domain": [0.0599, 0.1528], "nice": false, "zero": false}, "axis": null}, "x2": {"field": "xh"}, "y": {"field": "y", "type": "quantitative", "scale": {"domain": [-0.1631, 0.1369], "nice": false, "zero": false}, "axis": null}}},
  {"data": {"name": "j"}, "mark": {"type": "rule", "color": "#BDBDBD", "strokeWidth": 0.65, "clip": true},
   "encoding": {"x": {"field": "x", "type": "quantitative", "axis": null}, "y": {"field": "yl", "type": "quantitative", "axis": null}, "y2": {"field": "yh"}}},
  {"data": {"name": "j"}, "mark": {"type": "circle", "color": "#000000", "size": 6, "opacity": 1},
   "encoding": {"x": {"field": "x", "type": "quantitative", "axis": {"orient": "bottom", "values": [0.08, 0.1, 0.12, 0.14], "format": ".2f", "title": "SNP effect on genus.", "titleX": -35, "titleY": 22, "titleAlign": "left", "titleBaseline": "middle"}},
                "y": {"field": "y", "type": "quantitative", "axis": {"orient": "left", "values": [-0.15, -0.1, -0.05, 0, 0.05, 0.1], "format": ".2f", "title": "SNP effect on ECNEH"}}}},
  {"data": {"name": "lj"}, "mark": {"type": "rule", "strokeWidth": 1, "clip": true},
   "encoding": {"x": {"field": "x0", "type": "quantitative", "axis": {"orient": "bottom", "values": [0.07, 0.09, 0.11, 0.13, 0.15], "labels": false, "ticks": false, "gridWidth": 0.5, "title": "CandidatusSoleaferrea", "titleFontStyle": "italic", "titleX": 87.9, "titleY": 22, "titleAlign": "left", "titleBaseline": "middle"}}, "x2": {"field": "x1"},
                "y": {"field": "y0", "type": "quantitative", "axis": {"orient": "left", "values": [-0.125, -0.075, -0.025, 0.025, 0.075, 0.125], "labels": false, "ticks": false, "gridWidth": 0.5, "title": null}}, "y2": {"field": "y1"},
                "color": {"field": "m", "type": "nominal", "scale": {"domain": ["Inverse variance weighted", "MR Egger", "Simple mode", "Weighted median", "Weighted mode"], "range": ["#A6CEE3", "#1F78B4", "#B2DF8A", "#33A02C", "#FB9A99"]}, "legend": {"title": "MR Test", "orient": "none", "legendX": 508, "legendY": 707, "symbolType": "M-1,1L1,-1", "symbolSize": 530, "symbolStrokeWidth": 1.5}}}}
 ]},
{"title": {"text": "K", "dx": -15}, "width": 205, "height": 175,
 "resolve": {"axis": {"x": "independent", "y": "independent"}},
 "layer": [
  {"data": {"name": "k"}, "mark": {"type": "rule", "color": "#BDBDBD", "strokeWidth": 0.65, "clip": true},
   "encoding": {"x": {"field": "xl", "type": "quantitative", "scale": {"domain": [0.0306, 0.2837], "nice": false, "zero": false}, "axis": null}, "x2": {"field": "xh"}, "y": {"field": "y", "type": "quantitative", "scale": {"domain": [-0.2865, 0.391], "nice": false, "zero": false}, "axis": null}}},
  {"data": {"name": "k"}, "mark": {"type": "rule", "color": "#BDBDBD", "strokeWidth": 0.65, "clip": true},
   "encoding": {"x": {"field": "x", "type": "quantitative", "axis": null}, "y": {"field": "yl", "type": "quantitative", "axis": null}, "y2": {"field": "yh"}}},
  {"data": {"name": "k"}, "mark": {"type": "circle", "color": "#000000", "size": 6, "opacity": 1},
   "encoding": {"x": {"field": "x", "type": "quantitative", "axis": {"orient": "bottom", "values": [0.1, 0.2], "format": ".1f", "title": "SNP effect on genus.", "titleX": 0, "titleY": 22, "titleAlign": "left", "titleBaseline": "middle"}},
                "y": {"field": "y", "type": "quantitative", "axis": {"orient": "left", "values": [-0.2, 0, 0.2], "format": ".1f", "title": "SNP effect on ECNEH"}}}},
  {"data": {"name": "lk"}, "mark": {"type": "rule", "strokeWidth": 1, "clip": true},
   "encoding": {"x": {"field": "x0", "type": "quantitative", "axis": {"orient": "bottom", "values": [0.05, 0.15, 0.25], "labels": false, "ticks": false, "gridWidth": 0.5, "title": "Intestinimonas", "titleFontStyle": "italic", "titleX": 122.9, "titleY": 22, "titleAlign": "left", "titleBaseline": "middle"}}, "x2": {"field": "x1"},
                "y": {"field": "y0", "type": "quantitative", "axis": {"orient": "left", "values": [-0.1, 0.1, 0.3], "labels": false, "ticks": false, "gridWidth": 0.5, "title": null}}, "y2": {"field": "y1"},
                "color": {"field": "m", "type": "nominal", "scale": {"domain": ["Inverse variance weighted", "MR Egger", "Simple mode", "Weighted median", "Weighted mode"], "range": ["#A6CEE3", "#1F78B4", "#B2DF8A", "#33A02C", "#FB9A99"]}, "legend": {"title": "MR Test", "orient": "none", "legendX": 508, "legendY": 707, "symbolType": "M-1,1L1,-1", "symbolSize": 530, "symbolStrokeWidth": 1.5}}}}
 ]}
]
}
